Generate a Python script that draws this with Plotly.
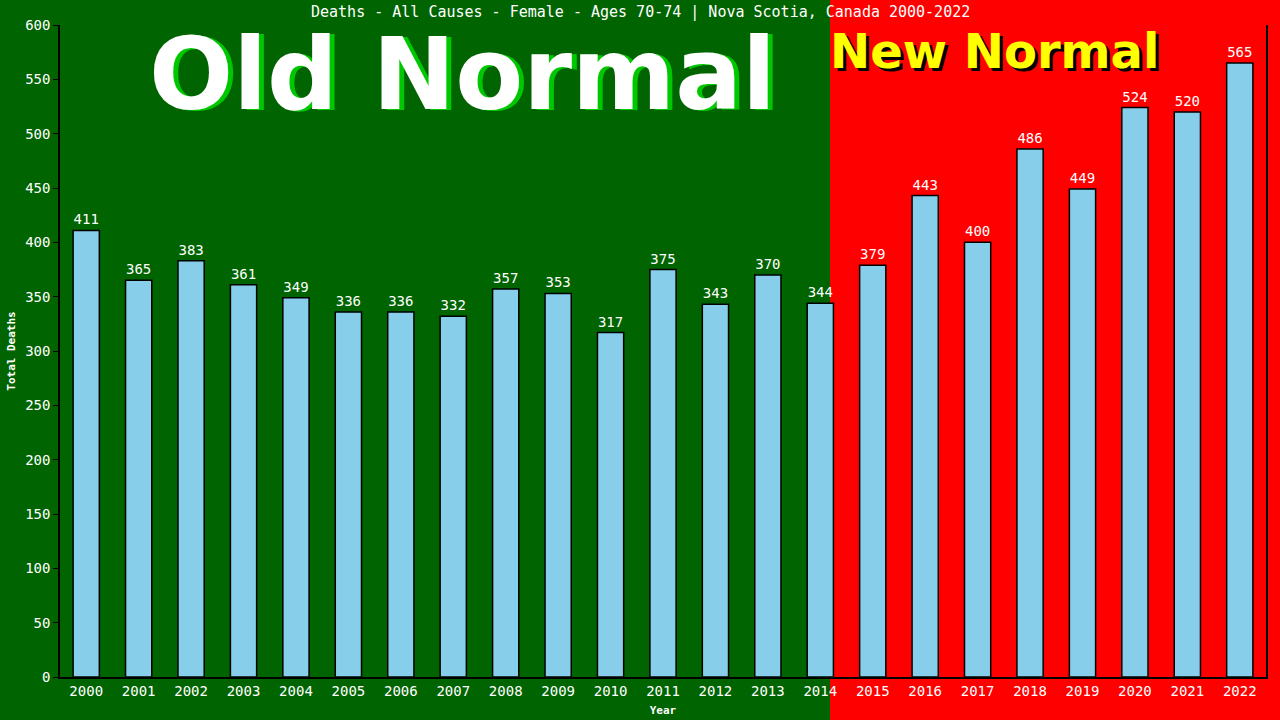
import plotly.graph_objects as go

years = [str(y) for y in range(2000, 2023)]
deaths = [411, 365, 383, 361, 349, 336, 336, 332, 357, 353, 317, 375, 343,
          370, 344, 379, 443, 400, 486, 449, 524, 520, 565]
y_ticks = list(range(0, 601, 50))

title_text = "Deaths - All Causes - Female - Ages 70-74 | Nova Scotia, Canada 2000-2022"

W, H = 1280, 720
L, R, T, B = 60, 14, 25, 43
PW, PH = W - L - R, H - T - B


def px(xp):
    return (xp - L) / PW


def py(yp):
    return (H - B - yp) / PH


GREEN = "#006400"
RED = "#ff0000"
mono = "DejaVu Sans Mono"

fig = go.Figure()
fig.add_trace(go.Bar(
    x=years, y=deaths, width=0.5,
    marker=dict(color="#87ceeb", line=dict(color="black", width=1.5)),
    text=[str(v) for v in deaths], textposition="outside",
    textfont=dict(color="white", size=14, family=mono),
    cliponaxis=False,
))

fig.update_layout(
    width=W, height=H,
    margin=dict(l=L, r=R, t=T, b=B),
    paper_bgcolor=GREEN,
    plot_bgcolor="rgba(0,0,0,0)",
    showlegend=False,
    bargap=0.5,
    font=dict(family=mono, color="white"),
    xaxis=dict(
        type="category", range=[-0.5, 22.5], automargin=False,
        showline=True, linecolor="black", linewidth=1.5,
        ticks="", showgrid=False,
        tickfont=dict(size=14, color="white", family=mono),
        title=dict(text="<b>Year</b>", font=dict(size=11, color="white", family=mono), standoff=9),
    ),
    yaxis=dict(
        range=[0, 600], tickvals=y_ticks, automargin=False,
        showline=True, linecolor="black", linewidth=1.5, mirror=True,
        ticks="outside", ticklen=5, tickcolor="black",
        showgrid=False, zeroline=False,
        tickfont=dict(size=14, color="white", family=mono),
        title=dict(text="<b>Total Deaths</b>", font=dict(size=11, color="white", family=mono), standoff=7),
    ),
    shapes=[dict(
        type="rect", xref="paper", yref="paper",
        x0=px(830), x1=px(W + 5), y0=py(H + 5), y1=py(-5),
        fillcolor=RED, line=dict(width=0), layer="below",
    )],
)

fig.add_annotation(
    text=title_text, xref="paper", yref="paper", x=px(640), y=py(12),
    xanchor="center", yanchor="middle", showarrow=False,
    font=dict(size=15, color="white", family=mono),
)
fig.add_annotation(
    text="<b>Old Normal</b>", xref="paper", yref="paper", x=px(462), y=py(74),
    xanchor="center", yanchor="middle", showarrow=False,
    font=dict(size=99, color="white", family="DejaVu Sans", shadow="5px 1px 0px #00c800"),
)
fig.add_annotation(
    text="<b>New Normal</b>", xref="paper", yref="paper", x=px(994), y=py(51),
    xanchor="center", yanchor="middle", showarrow=False,
    font=dict(size=48, color="#ffff00", family="DejaVu Sans", shadow="3px 3px 0px #000000"),
)

fig.write_html(
    "out.html",
    config={"displayModeBar": False},
    post_script="document.body.style.margin='0px';",
)
